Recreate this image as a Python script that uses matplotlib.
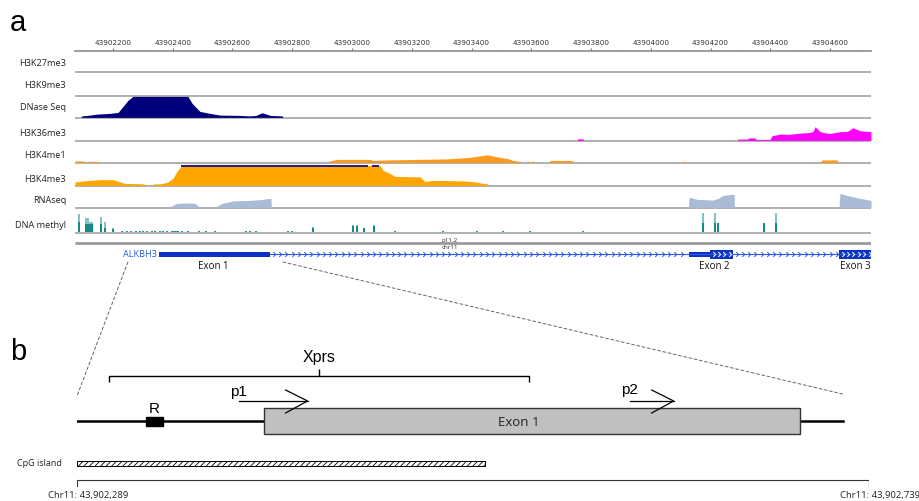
import numpy as np
import matplotlib.pyplot as plt
from matplotlib.patches import Rectangle, ConnectionPatch
from matplotlib.path import Path
from matplotlib.ticker import FixedLocator, FuncFormatter

plt.rcParams['font.family'] = ['Open Sans', 'DejaVu Sans']
plt.rcParams['hatch.linewidth'] = 0.6

W, H = 919, 502
VIEW_START, VIEW_END = 43902073, 43904737      # panel a window
ZOOM_START, ZOOM_END = 43902289, 43902739      # panel b window

ruler_major = [43902200, 43902400, 43902600, 43902800, 43903000, 43903200, 43903400,
               43903600, 43903800, 43904000, 43904200, 43904400, 43904600]
ruler_minor = [43902100, 43902300, 43902500, 43902700, 43902900, 43903100, 43903300,
               43903500, 43903700, 43903900, 43904100, 43904300, 43904500, 43904700]

track_names = ["H3K27me3", "H3K9me3", "DNase Seq", "H3K36me3", "H3K4me1", "H3K4me3", "RNAseq", "DNA methyl"]
track_label_y = [63, 86, 108, 134, 156, 180, 201, 226]
track_base_y = [73, 97, 119, 142, 164, 187, 209, 234]

# signal tracks: bp offset from VIEW_START, height (20 = full track)
dnase_pos = [20, 23, 50, 74, 117, 144, 161, 177, 194, 378, 392, 418, 452, 485, 552, 586, 606, 626, 653, 693, 696]
dnase_val = [0, 1.5, 2.3, 3.3, 4, 5, 11, 17, 21, 21, 14, 6, 4, 2.3, 2, 1.5, 2, 4.7, 2, 1.5, 0]

k36_pos = [1680, 1682, 1700, 1702, 2215, 2219, 2250, 2255, 2275, 2280, 2326, 2333, 2360, 2390, 2417,
           2440, 2460, 2470, 2477, 2494, 2510, 2527, 2545, 2560, 2585, 2604, 2627, 2664]
k36_val = [0, 1.5, 1.5, 0, 0, 1.3, 1.3, 2.5, 2.5, 1, 1, 4.7, 6.3, 6, 7,
           7.5, 8, 9, 13.7, 8.7, 7.5, 7, 8, 8.7, 9, 12.7, 9.7, 8.7]

k4me1_pos = [0, 30, 31, 40, 41, 80, 81, 845, 847, 877, 987, 997, 1044, 1155, 1245, 1322, 1379, 1422,
             1446, 1466, 1489, 1490, 1510, 1511, 1518, 1519, 1527, 1528, 1534, 1535, 1585, 1590, 1663,
             1668, 2030, 2032, 2040, 2042, 2495, 2500, 2550, 2555]
k4me1_val = [1.5, 1.5, 0, 0, 1, 1, 0, 0, 1, 3, 3, 2, 2.5, 3, 3.5, 5, 7.6, 5,
             4, 2, 1, 0, 0, 1.2, 1.2, 0, 0, 1.2, 1.2, 0, 0, 2, 2,
             0, 0, 1, 1, 0, 0, 2.5, 2.5, 0]

k4me3_pos = [0, 30, 84, 127, 151, 167, 228, 244, 261, 262, 284, 308, 328, 341, 358, 1021, 1031, 1054,
             1071, 1155, 1170, 1200, 1300, 1340, 1366, 1379, 1380]
k4me3_val = [3.4, 4.5, 5.7, 5.7, 3.4, 2, 1.5, 0, 0, 1.5, 1.5, 3, 7, 14, 20, 20, 15, 12,
             9, 8.5, 4, 5, 4.5, 3.5, 2, 2, 0]
k4me3_clip = [(358, 977), (997, 1014)]

rna_pos = [322, 325, 341, 375, 402, 412, 414, 473, 475, 492, 529, 586, 629, 649, 656, 657,
           2053, 2055, 2062, 2082, 2135, 2152, 2169, 2199, 2206, 2207, 2557, 2560, 2584, 2627, 2664]
rna_val = [0, 1.7, 4, 4.5, 4, 1.5, 0, 0, 1.5, 4, 6.5, 7, 8, 9, 9, 0,
           0, 9.7, 9.7, 8, 7.3, 9, 12, 13, 13, 0, 0, 14, 12, 9, 7]

meth_pos = [13, 37, 44, 50, 57, 87, 100, 127, 797, 930, 944, 967, 1001, 2102, 2142, 2152, 2306, 2346]
meth_dark = [10, 8, 8, 8, 8, 8, 4, 3, 4, 6, 6, 4, 6, 9, 9, 9, 9, 9]
meth_light = [18, 14, 14, 10, 10, 15, 10, 4, 5, 7, 7, 4, 7, 19, 19, 9, 9, 19]
meth_dot_pos = [157, 174, 187, 204, 218, 228, 241, 258, 268, 284, 295, 308, 325, 331, 338, 345, 358,
                378, 415, 438, 469, 572, 586, 606, 713, 726, 1071, 1232, 1345, 1432, 1523, 1700]

# gene model (bp offsets)
utr_blocks = [(281, 653), (2055, 2125)]
cds_blocks = [(2125, 2202), (2557, 2664)]
exon_names = ["Exon 1", "Exon 2", "Exon 3"]
exon_label_pos = [462, 2139, 2611]
band_label_pos = 1255

# panel b schematic (absolute bp)
xprs_span = (43902307, 43902546)
r_span = (43902328, 43902338)
exon1_span = (43902395, 43902700)
p1_span = (43902381, 43902420)
p2_span = (43902603, 43902628)
cpg_span = (43902289, 43902521)
locus_span = (43902289, 43902724)

fig = plt.figure(figsize=(W / 100, H / 100), dpi=100)

ov = fig.add_axes([0, 0, 1, 1])
ov.set_xlim(0, W)
ov.set_ylim(H, 0)
ov.axis('off')

ga = fig.add_axes([75 / W, 0, 796 / W, 1])
ga.set_xlim(VIEW_START, VIEW_END)
ga.set_ylim(H, 0)
ga.axis('off')

bx = fig.add_axes([77 / W, 0, 792 / W, 1])
bx.set_xlim(ZOOM_START, ZOOM_END)
bx.set_ylim(H, 0)
bx.axis('off')

# ruler
ru = fig.add_axes([75 / W, 1 - 52 / H, 796 / W, 1e-4])
ru.set_xlim(VIEW_START, VIEW_END)
for s in ['top', 'left', 'right']:
    ru.spines[s].set_visible(False)
ru.spines['bottom'].set_color('#8c8c8c')
ru.spines['bottom'].set_linewidth(1.2)
ru.set_yticks([])
ru.xaxis.set_major_locator(FixedLocator(ruler_major))
ru.xaxis.set_minor_locator(FixedLocator(ruler_minor))
ru.xaxis.set_major_formatter(FuncFormatter(lambda v, p: f"{int(v)}"))
ru.tick_params(axis='x', which='both', bottom=False, top=True, labelbottom=False,
               labeltop=True, direction='out', color='#777777', width=0.8)
ru.tick_params(axis='x', which='major', length=2.5, labelsize=5.2, pad=1.5, labelcolor='#333333')
ru.tick_params(axis='x', which='minor', length=1)
for lab in ru.get_xticklabels():
    lab.set_family('DejaVu Sans')

# track labels and baselines
for name, y in zip(track_names, track_label_y):
    ov.text(66, y, name, ha='right', va='center', fontsize=6.6, color='#222222')

ga.hlines(track_base_y, VIEW_START, VIEW_END, color='#b0b0b0', lw=1.4, zorder=1)


def signal(pos, val, base, color):
    x = VIEW_START + np.asarray(pos)
    b = base - 0.6
    ga.fill_between(x, b, b - np.asarray(val), color=color, lw=0, zorder=2)


signal(dnase_pos, dnase_val, track_base_y[2], '#00007a')
signal(k36_pos, k36_val, track_base_y[3], '#ff00ff')
signal(k4me1_pos, k4me1_val, track_base_y[4], '#fb9a1c')
signal(k4me3_pos, k4me3_val, track_base_y[5], '#ffa500')
for a, b in k4me3_clip:
    ga.plot([VIEW_START + a, VIEW_START + b], [track_base_y[5] - 20] * 2, color='#1c1c8c', lw=1.4, zorder=3)
signal(rna_pos, rna_val, track_base_y[6], '#aabbd8')

mbase = track_base_y[7] - 0.6
mx = VIEW_START + np.asarray(meth_pos)
ga.bar(mx, -np.asarray(meth_light), bottom=mbase, width=5, color='#86c3c0', lw=0, zorder=2)
ga.bar(mx, -np.asarray(meth_dark), bottom=mbase, width=5, color='#178a84', lw=0, zorder=2)
ga.bar(VIEW_START + np.asarray(meth_dot_pos), -1.3, bottom=mbase, width=6, color='#2a9490', lw=0, zorder=2)

ga.hlines(244, VIEW_START, VIEW_END, color='#9a9a9a', lw=2)
ga.text(VIEW_START + band_label_pos, 240.5, "p11.2", ha='center', va='center', fontsize=4.5, color='#333333')
ga.text(VIEW_START + band_label_pos, 248, "chr11", ha='center', va='center', fontsize=4.5, color='#333333')

# gene model
gy = 255
blue = '#0d32c2'
ga.plot([VIEW_START + utr_blocks[0][1], VIEW_END], [gy, gy], color='#2b5be0', lw=0.8)
chev = Path([(-0.5, 1), (0.5, 0), (-0.5, -1)], [Path.MOVETO, Path.LINETO, Path.LINETO])
intron_ranges = [(utr_blocks[0][1], utr_blocks[1][0]), (cds_blocks[0][1], cds_blocks[1][0])]
for a, b in intron_ranges:
    cx = VIEW_START + np.arange(a + 12, b - 4, 21)
    ga.plot(cx, np.full(len(cx), gy), ls='none', marker=chev, ms=3.5, mfc='none',
            mec='#2b5be0', mew=0.7)
for a, b in utr_blocks:
    ga.add_patch(Rectangle((VIEW_START + a, gy - 2.5), b - a, 5, color=blue, lw=0))
for a, b in cds_blocks:
    ga.add_patch(Rectangle((VIEW_START + a, gy - 4.5), b - a, 9, color=blue, lw=0))
    cx = VIEW_START + np.arange(a + 12, b - 4, 18)
    ga.plot(cx, np.full(len(cx), gy), ls='none', marker=chev, ms=3.5, mfc='none',
            mec='white', mew=0.7)
ga.text(VIEW_START + utr_blocks[0][0] - 8, gy - 0.5, "ALKBH3", ha='right', va='center',
        fontsize=6.6, color='#2a5bd7')
for name, p in zip(exon_names, exon_label_pos):
    ga.text(VIEW_START + p, 267, name, ha='center', va='center', fontsize=7, color='#111111')

# panel labels
ov.text(10, 31, "a", fontsize=21, family='Liberation Sans', va='baseline')
ov.text(10, 360, "b", fontsize=21, family='Liberation Sans', va='baseline')

# panel b
k = dict(color='black', lw=1, solid_capstyle='butt')
xm = (xprs_span[0] + xprs_span[1]) / 2
bx.plot([xprs_span[0], xprs_span[0], xprs_span[1], xprs_span[1]], [383, 377, 377, 383], **k)
bx.plot([xm, xm], [377, 370], **k)
bx.text(xm, 358, "Xprs", ha='center', va='center', fontsize=11.5, family='Liberation Sans')

bx.plot(locus_span, [422, 422], color='black', lw=1.8, zorder=1)
bx.add_patch(Rectangle((r_span[0], 417.5), r_span[1] - r_span[0], 9, color='black', zorder=2))
bx.text((r_span[0] + r_span[1]) / 2, 409, "R", ha='center', va='center', fontsize=11,
        family='Liberation Sans')
bx.add_patch(Rectangle((exon1_span[0], 409), exon1_span[1] - exon1_span[0], 26,
                       facecolor='#c0c0c0', edgecolor='#333333', lw=1, zorder=2))
bx.text(43902540, 423, "Exon 1", ha='center', va='center', fontsize=9.5, color='#222222', zorder=3)

for (a, b), name, ty in [(p1_span, "p1", 392), (p2_span, "p2", 390)]:
    bx.plot([a, b], [402, 402], color='black', lw=0.9, zorder=3)
    bx.plot([b - 12.5, b, b - 12.5], [391, 402, 414], color='black', lw=0.9, zorder=3)
    bx.text(a - 5, ty, name, ha='left', va='center', fontsize=11, family='Liberation Sans')

bx.add_patch(Rectangle((cpg_span[0], 462), cpg_span[1] - cpg_span[0], 5, facecolor='white',
                       edgecolor='black', lw=0.7, hatch='//////'))
ov.text(17, 464, "CpG island", ha='left', va='center', fontsize=6.5, color='#222222')

bx.plot([ZOOM_START, ZOOM_START, ZOOM_END, ZOOM_END], [487, 481, 481, 487], color='#333333', lw=0.8)
for x in (ZOOM_START, ZOOM_END):
    bx.annotate(f"Chr11: {x:,}", (x, 496), xytext=(8, 0), textcoords='offset points',
                ha='center', va='center', fontsize=6.8, color='#222222', annotation_clip=False)

# dashed connectors from panel a to panel b
for (ga_x, ga_y), (bx_x, bx_y) in [((43902250, 263), (locus_span[0], 397)),
                                   ((43902769, 263), (locus_span[1], 395))]:
    con = ConnectionPatch(xyA=(ga_x, ga_y), coordsA=ga.transData, xyB=(bx_x, bx_y),
                          coordsB=bx.transData, color='#666666', lw=0.7, linestyle=(0, (3, 2.5)))
    fig.add_artist(con)

fig.savefig("out.png", dpi=100)
